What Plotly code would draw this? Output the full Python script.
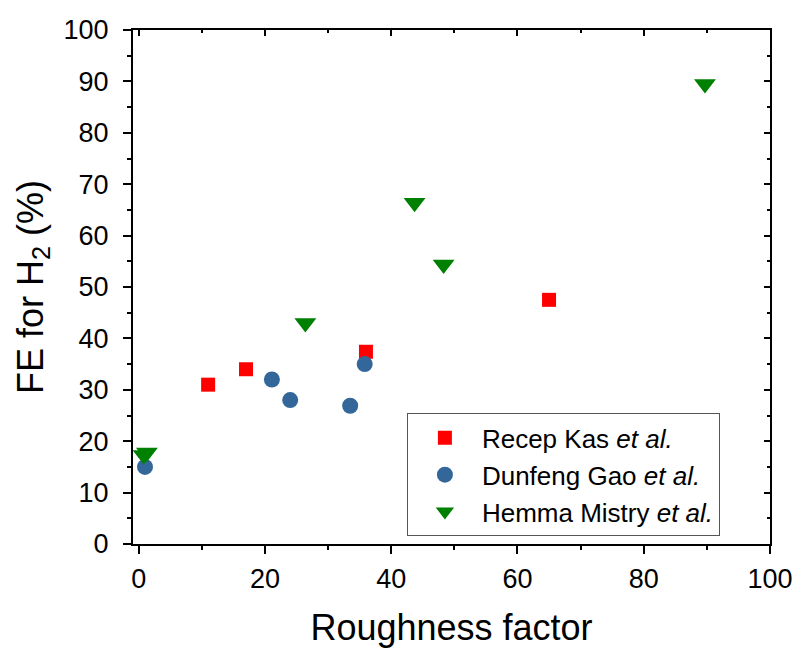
import plotly.graph_objects as go

# Data
kas_x = [11, 17, 36, 65]
kas_y = [31, 34, 37.4, 47.5]

gao_x = [1, 21.1, 24, 33.5, 35.8]
gao_y = [15, 32, 28, 26.9, 35]

mistry_x = [0.8, 1.3, 26.4, 43.7, 48.3, 89.7]
mistry_y = [17.3, 17.8, 43, 66.4, 54.4, 89.5]

x_range = [-0.9, 100]
y_range = [0, 100]

FONT = "Liberation Sans, Arial, sans-serif"

fig = go.Figure()
fig.add_trace(go.Scatter(x=kas_x, y=kas_y, mode="markers", name="Recep Kas <i>et al.</i>",
                         marker=dict(symbol="square", size=14, color="#FF0000", line=dict(width=0))))
fig.add_trace(go.Scatter(x=gao_x, y=gao_y, mode="markers", name="Dunfeng Gao <i>et al.</i>",
                         marker=dict(symbol="circle", size=16, color="#336699", line=dict(width=0))))
fig.add_trace(go.Scatter(x=mistry_x, y=mistry_y, mode="markers", name="Hemma Mistry <i>et al.</i>",
                         marker=dict(symbol="triangle-down", size=19, color="#008000", line=dict(width=0))))
# empty trace to activate mirrored (top/right) axes
fig.add_trace(go.Scatter(x=[], y=[], xaxis="x2", yaxis="y2", showlegend=False, hoverinfo="skip"))

axis_common = dict(showline=True, linecolor="black", linewidth=2, showgrid=False, zeroline=False,
                   tickcolor="black", tickwidth=2, automargin=False)

fig.update_layout(
    width=798, height=648,
    margin=dict(l=133, r=28, t=30, b=104),
    paper_bgcolor="white", plot_bgcolor="white",
    font=dict(family=FONT, color="black", size=27),
    xaxis=dict(range=x_range, tickmode="linear", tick0=0, dtick=20, ticks="outside", ticklen=8,
               minor=dict(ticks="outside", ticklen=4, dtick=10, tick0=0, tickcolor="black", tickwidth=2),
               tickfont=dict(size=27), ticklabelstandoff=2,
               title=dict(text="Roughness factor", font=dict(size=36), standoff=26),
               **axis_common),
    yaxis=dict(range=y_range, tickmode="linear", tick0=0, dtick=10, ticks="outside", ticklen=8,
               minor=dict(ticks="outside", ticklen=4, dtick=5, tick0=0, tickcolor="black", tickwidth=2),
               tickfont=dict(size=27), ticklabelstandoff=9,
               title=dict(text="FE for H<sub>2</sub> (%)", font=dict(size=36), standoff=9),
               **axis_common),
    xaxis2=dict(range=x_range, overlaying="x", side="top", anchor="y", tickmode="linear", tick0=0, dtick=20,
                ticks="inside", ticklen=6, showticklabels=False,
                minor=dict(ticks="inside", ticklen=3, dtick=10, tick0=0, tickcolor="black", tickwidth=2),
                **axis_common),
    yaxis2=dict(range=y_range, overlaying="y", side="right", anchor="x", tickmode="linear", tick0=0, dtick=10,
                ticks="inside", ticklen=6, showticklabels=False,
                minor=dict(ticks="inside", ticklen=3, dtick=5, tick0=0, tickcolor="black", tickwidth=2),
                **axis_common),
    legend=dict(x=0.430, y=0.254, xanchor="left", yanchor="top", bgcolor="white",
                bordercolor="#555555", borderwidth=1, font=dict(size=26, family=FONT),
                itemwidth=64, tracegroupgap=0),
    showlegend=True,
)

fig.write_html("out.html")
